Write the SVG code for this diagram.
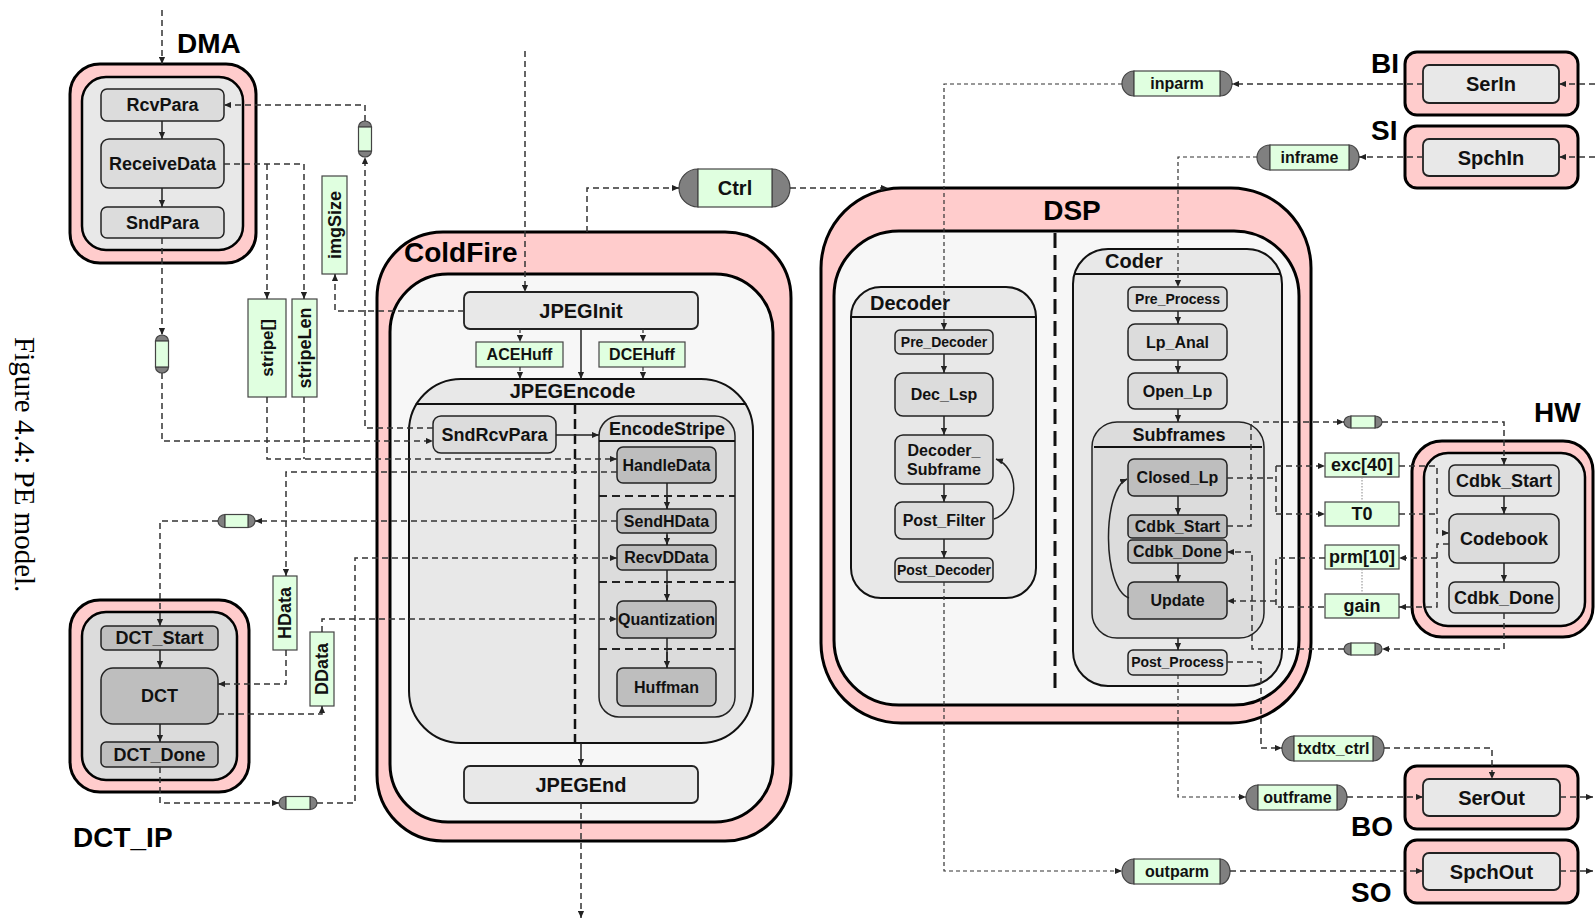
<svg xmlns="http://www.w3.org/2000/svg" width="1595" height="924" viewBox="0 0 1595 924">
<defs>
<marker id="ar" viewBox="0 0 8 8" refX="8" refY="4" markerWidth="7" markerHeight="7" markerUnits="userSpaceOnUse" orient="auto"><path d="M0,0.5 L8,4 L0,7.5 z" fill="#222"/></marker>
<style>
.pe{fill:#ffcccc;stroke:#000;stroke-width:3}
.pil{fill:#f7f7f7;stroke:#000;stroke-width:3}
.pig{fill:#e8e8e8;stroke:#000;stroke-width:2.5}
.pid{fill:#dcdcdc;stroke:#000;stroke-width:2.5}
.bh{fill:#e8e8e8;stroke:#111;stroke-width:2}
.bh2{fill:#dcdcdc;stroke:#222;stroke-width:1.5}
.n1{fill:#e8e8e8;stroke:#222;stroke-width:1.8}
.n2{fill:#dcdcdc;stroke:#222;stroke-width:1.5}
.n3{fill:#bebebe;stroke:#222;stroke-width:1.5}
.ch{fill:#e0ffe0;stroke:#444;stroke-width:1.2}
.cap{fill:#808080;stroke:#444;stroke-width:1.2}
.t{font-family:"Liberation Sans",Arial,sans-serif;font-weight:bold;fill:#111;text-anchor:middle}
.big{font-family:"Liberation Sans",Arial,sans-serif;font-weight:bold;font-size:28px;fill:#000}
.f14{font-size:14px}.f16{font-size:16px}.f18{font-size:18px}.f20{font-size:20px}
.d{fill:none;stroke:#333;stroke-width:1.5;stroke-dasharray:6 4}
.dt{fill:none;stroke:#333;stroke-width:1.2;stroke-dasharray:4 3}
.s{fill:none;stroke:#222;stroke-width:1.5}
.hl{fill:none;stroke:#111;stroke-width:2}
.sep{fill:none;stroke:#222;stroke-width:1.8;stroke-dasharray:8 5}
.dot{fill:none;stroke:#888;stroke-width:1;stroke-dasharray:1.5 1.5}
</style>
</defs>
<rect width="1595" height="924" fill="#fff"/>

<text x="15" y="337" transform="rotate(90 15 337)" font-family="'Liberation Serif','Times New Roman',serif" font-size="29" fill="#000">Figure 4.4: PE model.</text>

<g id="DMA">
<rect class="pe" x="70" y="64" width="186" height="199" rx="30"/>
<rect class="pig" x="82" y="77" width="161" height="173" rx="24"/>
<text class="big" x="177" y="53">DMA</text>
<g id="RcvPara"><rect class="n2" x="101" y="89" width="123" height="32" rx="6"/><text class="t f18" x="162.5" y="105" dy=".35em">RcvPara</text></g>
<g id="ReceiveData"><rect class="n2" x="101" y="139" width="123" height="49" rx="8"/><text class="t f18" x="162.5" y="163.5" dy=".35em">ReceiveData</text></g>
<g id="SndPara"><rect class="n2" x="101" y="207" width="123" height="31" rx="6"/><text class="t f18" x="162.5" y="222.5" dy=".35em">SndPara</text></g>
<path class="s" d="M162,121 V139" marker-end="url(#ar)"/>
<path class="s" d="M162,188 V207" marker-end="url(#ar)"/>
</g>

<g id="DCT_IP">
<rect class="pe" x="70" y="600" width="179" height="192" rx="30"/>
<rect class="pid" x="82" y="612" width="155" height="168" rx="24"/>
<text class="big" x="73" y="847">DCT_IP</text>
<g id="DCT_Start"><rect class="n3" x="101" y="626" width="117" height="24" rx="5"/><text class="t f18" x="159.5" y="638" dy=".35em">DCT_Start</text></g>
<g id="DCT"><rect class="n3" x="101" y="668" width="117" height="56" rx="12"/><text class="t f18" x="159.5" y="696" dy=".35em">DCT</text></g>
<g id="DCT_Done"><rect class="n3" x="101" y="742" width="117" height="25" rx="5"/><text class="t f18" x="159.5" y="754.5" dy=".35em">DCT_Done</text></g>
<path class="s" d="M160,650 V668" marker-end="url(#ar)"/>
<path class="s" d="M160,724 V742" marker-end="url(#ar)"/>
</g>

<g id="ColdFire">
<rect class="pe" x="377" y="232" width="414" height="609" rx="66"/>
<rect class="pil" x="390" y="274" width="383" height="548" rx="58"/>
<text class="big" x="404" y="262">ColdFire</text>
<g id="JPEGInit"><rect class="n1" x="464" y="292" width="234" height="37" rx="6"/><text class="t f20" x="581" y="310.5" dy=".35em">JPEGInit</text></g>
<g id="JPEGEncode">
<rect class="bh" x="409" y="379" width="344" height="364" rx="52"/>
<path class="hl" d="M415.7,404 H746.3"/>
<text class="t f20" x="572.5" y="391" dy=".35em">JPEGEncode</text>
<path d="M575,404 V743" fill="none" stroke="#111" stroke-width="2.5" stroke-dasharray="10 5"/>
<g id="SndRcvPara"><rect class="n2" x="433" y="416" width="123" height="37" rx="8"/><text class="t f18" x="494.5" y="434.5" dy=".35em">SndRcvPara</text></g>
<g id="EncodeStripe">
<rect class="bh2" x="599" y="416" width="136" height="301" rx="20"/>
<path class="hl" d="M599,441 H735" stroke-width="1.8"/>
<text class="t f18" x="667" y="429" dy=".35em">EncodeStripe</text>
<path class="sep" d="M599,496 H735 M599,582 H735 M599,649 H735"/>
<g id="HandleData"><rect class="n3" x="617" y="447" width="99" height="36" rx="6"/><text class="t f16" x="666.5" y="465" dy=".35em">HandleData</text></g>
<g id="SendHData"><rect class="n3" x="617" y="509" width="99" height="24" rx="5"/><text class="t f16" x="666.5" y="521" dy=".35em">SendHData</text></g>
<g id="RecvDData"><rect class="n3" x="617" y="545" width="99" height="25" rx="5"/><text class="t f16" x="666.5" y="557.5" dy=".35em">RecvDData</text></g>
<g id="Quantization"><rect class="n3" x="617" y="601" width="99" height="37" rx="6"/><text class="t f16" x="666.5" y="619.5" dy=".35em">Quantization</text></g>
<g id="Huffman"><rect class="n3" x="617" y="668" width="99" height="38" rx="6"/><text class="t f16" x="666.5" y="687" dy=".35em">Huffman</text></g>
<path class="s" d="M667,483 V509 M667,533 V545 M667,570 V601 M667,638 V668" stroke-width="1.2"/>
<path class="s" d="M667,496 V509" marker-end="url(#ar)"/>
<path class="s" d="M667,535 V545" marker-end="url(#ar)"/>
<path class="s" d="M667,585 V601" marker-end="url(#ar)"/>
<path class="s" d="M667,652 V668" marker-end="url(#ar)"/>
</g>
</g>
<g id="ACEHuff"><rect class="ch" x="476" y="342" width="87" height="25"/><text class="t f16" x="519.5" y="354.5" dy=".35em">ACEHuff</text></g>
<g id="DCEHuff"><rect class="ch" x="599" y="342" width="86" height="25"/><text class="t f16" x="642" y="354.5" dy=".35em">DCEHuff</text></g>
<g id="JPEGEnd"><rect class="n1" x="464" y="766" width="234" height="37" rx="6"/><text class="t f20" x="581" y="784.5" dy=".35em">JPEGEnd</text></g>
<path class="s" d="M581,329 V379" stroke-width="2" marker-end="url(#ar)"/>
<path class="s" d="M581,743 V766" stroke-width="2" marker-end="url(#ar)"/>
<path class="s" d="M556,435 H599" stroke-width="2" marker-end="url(#ar)"/>
</g>

<g id="Ctrl">
<path class="cap" d="M698,169 A19,19 0 0 0 698,207 Z"/>
<path class="cap" d="M772,169 A18,19 0 0 1 772,207 Z"/>
<rect class="ch" x="698" y="169" width="74" height="38"/>
<text class="t f20" x="735" y="188" dy=".35em">Ctrl</text>
</g>

<g id="DSP">
<rect class="pe" x="821" y="188" width="490" height="535" rx="80"/>
<rect class="pil" x="834" y="231" width="465" height="474" rx="65"/>
<text class="big" x="1072" y="220" text-anchor="middle">DSP</text>
<path d="M1055,233 V695" fill="none" stroke="#111" stroke-width="3" stroke-dasharray="15 7"/>
<g id="Decoder">
<rect class="bh" x="851" y="287" width="185" height="311" rx="30"/>
<path class="hl" d="M851,317 H1036"/>
<text class="t f20" x="870" y="303" dy=".35em" text-anchor="start" style="text-anchor:start">Decoder</text>
<g id="Pre_Decoder"><rect class="n2" x="895" y="330" width="98" height="24" rx="5"/><text class="t f14" x="944" y="342" dy=".35em">Pre_Decoder</text></g>
<g id="Dec_Lsp"><rect class="n2" x="895" y="373" width="98" height="43" rx="8"/><text class="t f16" x="944" y="394.5" dy=".35em">Dec_Lsp</text></g>
<g id="Decoder_Subframe"><rect class="n2" x="895" y="435" width="98" height="49" rx="8"/><text class="t f16" x="944" y="456">Decoder_</text><text class="t f16" x="944" y="475">Subframe</text></g>
<g id="Post_Filter"><rect class="n2" x="895" y="502" width="98" height="37" rx="7"/><text class="t f16" x="944" y="520.5" dy=".35em">Post_Filter</text></g>
<g id="Post_Decoder"><rect class="n2" x="895" y="558" width="98" height="24" rx="5"/><text class="t f14" x="944" y="570" dy=".35em">Post_Decoder</text></g>
<path class="s" d="M944,354 V373" stroke-width="1.2" marker-end="url(#ar)"/>
<path class="s" d="M944,416 V435" stroke-width="1.2" marker-end="url(#ar)"/>
<path class="s" d="M944,484 V502" stroke-width="1.2" marker-end="url(#ar)"/>
<path class="s" d="M944,539 V558" stroke-width="1.2" marker-end="url(#ar)"/>
<path class="s" d="M994,519 C1020,510 1020,468 996,459" stroke-width="1.2" marker-end="url(#ar)"/>
</g>
<g id="Coder">
<rect class="bh" x="1073" y="249" width="209" height="437" rx="35"/>
<path class="hl" d="M1075,274 H1280"/>
<text class="t f20" x="1105" y="261" dy=".35em" style="text-anchor:start">Coder</text>
<g id="Pre_Process"><rect class="n2" x="1128" y="287" width="99" height="24" rx="5"/><text class="t f14" x="1177.5" y="299" dy=".35em">Pre_Process</text></g>
<g id="Lp_Anal"><rect class="n2" x="1128" y="324" width="99" height="36" rx="7"/><text class="t f16" x="1177.5" y="342" dy=".35em">Lp_Anal</text></g>
<g id="Open_Lp"><rect class="n2" x="1128" y="373" width="99" height="36" rx="7"/><text class="t f16" x="1177.5" y="391" dy=".35em">Open_Lp</text></g>
<g id="Subframes">
<rect class="bh2" x="1092" y="422" width="172" height="216" rx="25"/>
<path class="hl" d="M1094,447 H1262" stroke-width="1.8"/>
<text class="t f18" x="1179" y="435" dy=".35em">Subframes</text>
<g id="Closed_Lp"><rect class="n3" x="1128" y="459" width="99" height="37" rx="6"/><text class="t f16" x="1177.5" y="477.5" dy=".35em">Closed_Lp</text></g>
<g id="Cdbk_Start_C"><rect class="n3" x="1128" y="515" width="99" height="23" rx="4"/><text class="t f16" x="1177.5" y="526.5" dy=".35em">Cdbk_Start</text></g>
<g id="Cdbk_Done_C"><rect class="n3" x="1128" y="540" width="99" height="23" rx="4"/><text class="t f16" x="1177.5" y="551.5" dy=".35em">Cdbk_Done</text></g>
<g id="Update"><rect class="n3" x="1128" y="582" width="99" height="37" rx="6"/><text class="t f16" x="1177.5" y="600.5" dy=".35em">Update</text></g>
<path class="s" d="M1178,496 V515" stroke-width="1.2" marker-end="url(#ar)"/>
<path class="s" d="M1178,563 V582" stroke-width="1.2" marker-end="url(#ar)"/>
<path class="s" d="M1129,598 C1102,588 1102,490 1127,479" stroke-width="1.2" marker-end="url(#ar)"/>
</g>
<g id="Post_Process"><rect class="n2" x="1128" y="650" width="99" height="25" rx="5"/><text class="t f14" x="1177.5" y="662.5" dy=".35em">Post_Process</text></g>
<path class="s" d="M1178,311 V324" stroke-width="1.2" marker-end="url(#ar)"/>
<path class="s" d="M1178,360 V373" stroke-width="1.2" marker-end="url(#ar)"/>
<path class="s" d="M1178,409 V422" stroke-width="1.2" marker-end="url(#ar)"/>
<path class="s" d="M1178,638 V650" stroke-width="1.2" marker-end="url(#ar)"/>
</g>
</g>

<g id="HW">
<rect class="pe" x="1412" y="441" width="181" height="196" rx="30"/>
<rect class="pig" x="1424" y="453" width="161" height="173" rx="24"/>
<text class="big" x="1534" y="422">HW</text>
<g id="Cdbk_Start_HW"><rect class="n2" x="1449" y="465" width="110" height="31" rx="6"/><text class="t f18" x="1504" y="480.5" dy=".35em">Cdbk_Start</text></g>
<g id="Codebook"><rect class="n2" x="1449" y="514" width="110" height="49" rx="8"/><text class="t f18" x="1504" y="538.5" dy=".35em">Codebook</text></g>
<g id="Cdbk_Done_HW"><rect class="n2" x="1449" y="582" width="110" height="31" rx="6"/><text class="t f18" x="1504" y="597.5" dy=".35em">Cdbk_Done</text></g>
<path class="s" d="M1504,496 V514" marker-end="url(#ar)"/>
<path class="s" d="M1504,563 V582" marker-end="url(#ar)"/>
</g>

<g id="BI"><rect class="pe" x="1405" y="52" width="173" height="63" rx="12"/><text class="big" x="1371" y="73">BI</text>
<g id="SerIn"><rect class="n1" x="1423" y="65" width="136" height="38" rx="6" stroke-width="2"/><text class="t f20" x="1491" y="84" dy=".35em">SerIn</text></g></g>
<g id="SI"><rect class="pe" x="1405" y="126" width="173" height="62" rx="12"/><text class="big" x="1371" y="140">SI</text>
<g id="SpchIn"><rect class="n1" x="1423" y="139" width="136" height="37" rx="6" stroke-width="2"/><text class="t f20" x="1491" y="157.5" dy=".35em">SpchIn</text></g></g>
<g id="BO"><rect class="pe" x="1405" y="766" width="173" height="63" rx="12"/><text class="big" x="1351" y="836">BO</text>
<g id="SerOut"><rect class="n1" x="1423" y="779" width="137" height="37" rx="6" stroke-width="2"/><text class="t f20" x="1491.5" y="797.5" dy=".35em">SerOut</text></g></g>
<g id="SO"><rect class="pe" x="1405" y="840" width="173" height="63" rx="12"/><text class="big" x="1351" y="902">SO</text>
<g id="SpchOut"><rect class="n1" x="1423" y="853" width="137" height="37" rx="6" stroke-width="2"/><text class="t f20" x="1491.5" y="871.5" dy=".35em">SpchOut</text></g></g>

<g id="channels">
<g id="inparm"><path class="cap" d="M1134,71 A12,12.5 0 0 0 1134,96 Z"/><path class="cap" d="M1220,71 A12,12.5 0 0 1 1220,96 Z"/><rect class="ch" x="1134" y="71" width="86" height="25"/><text class="t f16" x="1177" y="83.5" dy=".35em">inparm</text></g>
<g id="inframe"><path class="cap" d="M1270,145 A13,12.5 0 0 0 1270,170 Z"/><path class="cap" d="M1349,145 A10,12.5 0 0 1 1349,170 Z"/><rect class="ch" x="1270" y="145" width="79" height="25"/><text class="t f16" x="1309.5" y="157.5" dy=".35em">inframe</text></g>
<g id="outframe"><path class="cap" d="M1258,785 A12,12.5 0 0 0 1258,810 Z"/><path class="cap" d="M1337,785 A10,12.5 0 0 1 1337,810 Z"/><rect class="ch" x="1258" y="785" width="79" height="25"/><text class="t f16" x="1297.5" y="797.5" dy=".35em">outframe</text></g>
<g id="txdtx_ctrl"><path class="cap" d="M1294,736 A12,12.5 0 0 0 1294,761 Z"/><path class="cap" d="M1373,736 A11,12.5 0 0 1 1373,761 Z"/><rect class="ch" x="1294" y="736" width="79" height="25"/><text class="t f16" x="1333.5" y="748.5" dy=".35em">txdtx_ctrl</text></g>
<g id="outparm"><path class="cap" d="M1134,859 A12,12.5 0 0 0 1134,884 Z"/><path class="cap" d="M1220,859 A10,12.5 0 0 1 1220,884 Z"/><rect class="ch" x="1134" y="859" width="86" height="25"/><text class="t f16" x="1177" y="871.5" dy=".35em">outparm</text></g>
<g id="exc40"><rect class="ch" x="1325" y="453" width="74" height="24"/><text class="t f18" x="1362" y="465" dy=".35em">exc[40]</text></g>
<g id="T0"><rect class="ch" x="1325" y="502" width="74" height="24"/><text class="t f18" x="1362" y="514" dy=".35em">T0</text></g>
<g id="prm10"><rect class="ch" x="1325" y="545" width="74" height="24"/><text class="t f18" x="1362" y="557" dy=".35em">prm[10]</text></g>
<g id="gain"><rect class="ch" x="1325" y="594" width="74" height="24"/><text class="t f18" x="1362" y="606" dy=".35em">gain</text></g>
<path class="dot" d="M1362,477 V502 M1362,569 V594"/>
<g id="chHW1"><path class="cap" d="M1351,416 A7,6 0 0 0 1351,428 Z"/><path class="cap" d="M1375,416 A7,6 0 0 1 1375,428 Z"/><rect class="ch" x="1351" y="416" width="24" height="12"/></g>
<g id="chHW2"><path class="cap" d="M1351,643 A7,6 0 0 0 1351,655 Z"/><path class="cap" d="M1375,643 A7,6 0 0 1 1375,655 Z"/><rect class="ch" x="1351" y="643" width="24" height="12"/></g>
<g id="chDCT1"><path class="cap" d="M225,514.5 A7,6.5 0 0 0 225,527.5 Z"/><path class="cap" d="M248,514.5 A7,6.5 0 0 1 248,527.5 Z"/><rect class="ch" x="225" y="514.5" width="23" height="13"/></g>
<g id="chDCT2"><path class="cap" d="M286,796.5 A7,6.5 0 0 0 286,809.5 Z"/><path class="cap" d="M310,796.5 A7,6.5 0 0 1 310,809.5 Z"/><rect class="ch" x="286" y="796.5" width="24" height="13"/></g>
<g id="chDMA1"><path class="cap" d="M358.5,127 A6.5,6 0 0 1 371.5,127 Z"/><path class="cap" d="M358.5,151 A6.5,6 0 0 0 371.5,151 Z"/><rect class="ch" x="358.5" y="127" width="13" height="24"/></g>
<g id="chDMA2"><path class="cap" d="M155.5,341 A6.5,6 0 0 1 168.5,341 Z"/><path class="cap" d="M155.5,367 A6.5,6 0 0 0 168.5,367 Z"/><rect class="ch" x="155.5" y="341" width="13" height="26"/></g>
<g id="stripe"><rect class="ch" x="248" y="299" width="38" height="98"/><text class="t f17" font-size="17" transform="translate(267,348) rotate(-90)" dy=".35em">stripe[]</text></g>
<g id="stripeLen"><rect class="ch" x="292" y="299" width="25" height="98"/><text class="t f18" transform="translate(304.5,348) rotate(-90)" dy=".35em">stripeLen</text></g>
<g id="imgSize"><rect class="ch" x="322" y="176" width="25" height="98"/><text class="t f18" transform="translate(334.5,225) rotate(-90)" dy=".35em">imgSize</text></g>
<g id="HData"><rect class="ch" x="273" y="576" width="24" height="74"/><text class="t f18" transform="translate(285,613) rotate(-90)" dy=".35em">HData</text></g>
<g id="DData"><rect class="ch" x="310" y="632" width="24" height="74"/><text class="t f18" transform="translate(322,669) rotate(-90)" dy=".35em">DData</text></g>
</g>

<g id="connectors">
<path class="d" d="M162,10 V64" marker-end="url(#ar)"/>
<path class="d" d="M433,428 H365 V157" marker-end="url(#ar)"/>
<path class="d" d="M365,121 V105 H224" marker-end="url(#ar)"/>
<path class="d" d="M162,238 V335" marker-end="url(#ar)"/>
<path class="d" d="M162,373 V441 H433" marker-end="url(#ar)"/>
<path class="d" d="M224,164 H304 V299" marker-end="url(#ar)"/>
<path class="d" d="M267,164 V299" marker-end="url(#ar)"/>
<path class="d" d="M267,397 V459 H617" marker-end="url(#ar)"/>
<path class="d" d="M304,397 V459"/>
<path class="d" d="M464,311 H335 V274" marker-end="url(#ar)"/>
<path class="d" d="M617,472 H286 V576" marker-end="url(#ar)"/>
<path class="d" d="M286,650 V684 H218" marker-end="url(#ar)"/>
<path class="d" d="M617,521 H255" marker-end="url(#ar)"/>
<path class="d" d="M218,521 H160 V626" marker-end="url(#ar)"/>
<path class="d" d="M218,714 H322 V706" marker-end="url(#ar)"/>
<path class="d" d="M322,632 V619 H617" marker-end="url(#ar)"/>
<path class="d" d="M160,767 V803 H279" marker-end="url(#ar)"/>
<path class="d" d="M317,803 H355 V558 H617" marker-end="url(#ar)"/>
<path class="d" d="M525,51 V292" marker-end="url(#ar)"/>
<path class="d" d="M581,803 V918" marker-end="url(#ar)"/>
<path class="dt" d="M520,329 V342" marker-end="url(#ar)"/>
<path class="dt" d="M520,367 V379" marker-end="url(#ar)"/>
<path class="dt" d="M643,329 V342" marker-end="url(#ar)"/>
<path class="dt" d="M643,367 V379" marker-end="url(#ar)"/>
<path class="d" d="M587,232 V188 H679" marker-end="url(#ar)"/>
<path class="d" d="M790,188 H888" marker-end="url(#ar)"/>
<path class="d" d="M1595,84 H1559" marker-end="url(#ar)"/>
<path class="d" d="M1423,84 H1232" marker-end="url(#ar)"/>
<path class="dt" d="M1122,84 H944 V330" marker-end="url(#ar)"/>
<path class="d" d="M1595,157 H1559" marker-end="url(#ar)"/>
<path class="d" d="M1423,157 H1359" marker-end="url(#ar)"/>
<path class="dt" d="M1257,157 H1178 V287" marker-end="url(#ar)"/>
<path class="dt" d="M944,582 V871 H1122" marker-end="url(#ar)"/>
<path class="d" d="M1230,871 H1423" marker-end="url(#ar)"/>
<path class="d" d="M1560,871 H1593" marker-end="url(#ar)"/>
<path class="dt" d="M1178,675 V797 H1246" marker-end="url(#ar)"/>
<path class="d" d="M1347,797 H1423" marker-end="url(#ar)"/>
<path class="d" d="M1560,797 H1593" marker-end="url(#ar)"/>
<path class="d" d="M1227,662 H1261 V748 H1282" marker-end="url(#ar)"/>
<path class="d" d="M1384,748 H1492 V779" marker-end="url(#ar)"/>
<path class="d" d="M1227,478 H1276"/>
<path class="d" d="M1276,466 V514"/>
<path class="d" d="M1276,466 H1325" marker-end="url(#ar)"/>
<path class="d" d="M1276,514 H1325" marker-end="url(#ar)"/>
<path class="d" d="M1399,466 H1437 V533 H1449" marker-end="url(#ar)"/>
<path class="d" d="M1399,514 H1437"/>
<path class="d" d="M1449,544 H1437 V607 H1399" marker-end="url(#ar)"/>
<path class="d" d="M1437,558 H1399" marker-end="url(#ar)"/>
<path class="d" d="M1325,558 H1276 V607 H1325"/>
<path class="d" d="M1276,601 H1227" marker-end="url(#ar)"/>
<path class="d" d="M1227,526 H1251 V422 H1344" marker-end="url(#ar)"/>
<path class="d" d="M1382,422 H1504 V465" marker-end="url(#ar)"/>
<path class="d" d="M1504,613 V649 H1382" marker-end="url(#ar)"/>
<path class="d" d="M1344,649 H1252 V552 H1227" marker-end="url(#ar)"/>
</g>
</svg>
